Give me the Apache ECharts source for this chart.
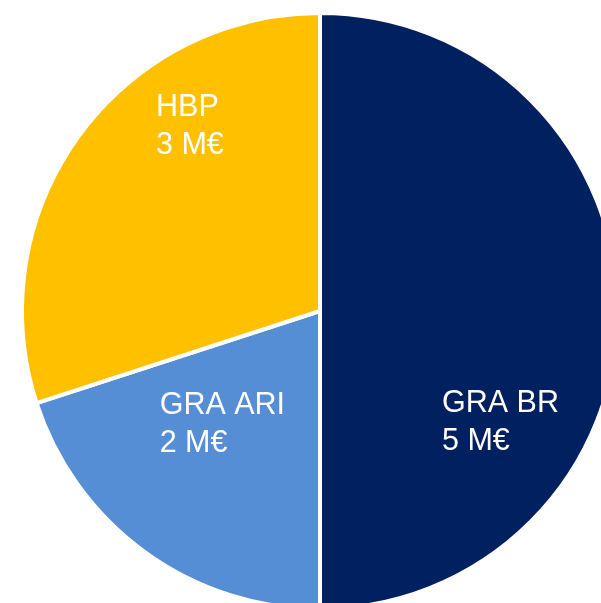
<!DOCTYPE html>
<html>
<head>
<meta charset="utf-8">
<script src="https://cdn.jsdelivr.net/npm/echarts@6/dist/echarts.min.js"></script>
<style>
  html, body { margin: 0; padding: 0; background: #fff; }
  #budget { width: 601px; height: 603px; }
</style>
</head>
<body>
<div id="budget"></div>
<script>
// data
var names = ['GRA BR', 'GRA ARI', 'HBP'];
var amounts = [5, 2, 3];
var unit = 'M€';

var colors = ['#002060', '#558ED5', '#FFC000'];
// fine placement of each inside label relative to its default anchor
var labelShift = [[35, 112], [-6, -9], [24, -95]];

var myChart = echarts.init(document.getElementById('budget'));

var seriesData = names.map(function (n, i) {
  return {
    name: n,
    value: amounts[i],
    itemStyle: { color: colors[i] },
    label: { offset: labelShift[i] }
  };
});

var option = {
  animation: false,
  backgroundColor: '#ffffff',
  series: [
    {
      type: 'pie',
      center: [320, 311],
      radius: [0, 298],
      startAngle: 90,
      clockwise: true,
      avoidLabelOverlap: false,
      itemStyle: {
        borderColor: '#ffffff',
        borderWidth: 4
      },
      label: {
        show: true,
        position: 'inside',
        formatter: function (p) {
          return '{t|' + p.name + '}\n{t|' + p.value + ' ' + unit + '}';
        },
        rich: {
          t: {
            width: 130,
            align: 'left',
            color: '#ffffff',
            fontFamily: 'Liberation Sans, Arial, sans-serif',
            fontSize: 30.5,
            lineHeight: 38
          }
        }
      },
      labelLine: { show: false },
      emphasis: { disabled: true },
      data: seriesData
    }
  ]
};

myChart.setOption(option);
window.onresize = myChart.resize;
</script>
</body>
</html>
